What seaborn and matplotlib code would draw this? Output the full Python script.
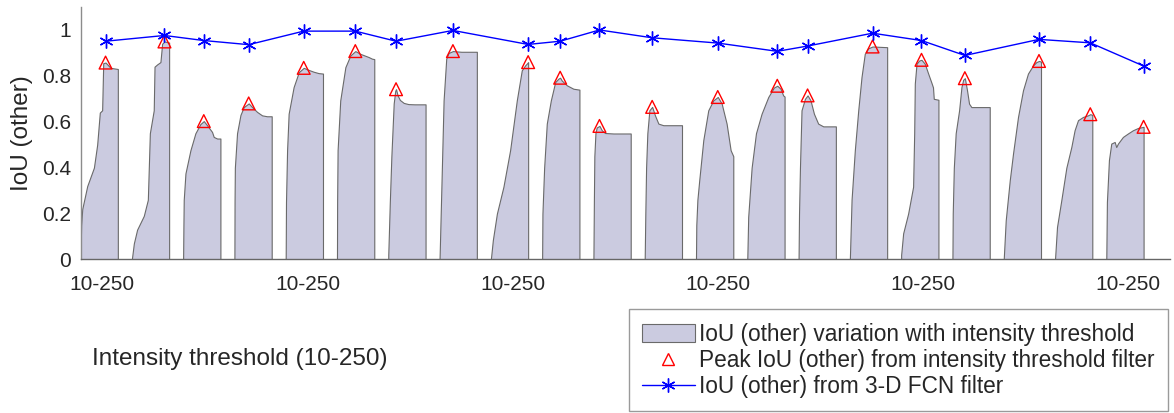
import numpy as np
import matplotlib
matplotlib.use("Agg")
import matplotlib.pyplot as plt
import seaborn as sns
from matplotlib.patches import Patch
from matplotlib.lines import Line2D

# IoU (other) versus intensity threshold for each sample: threshold knots and IoU values
s00_thr = [10, 11, 14, 21, 53, 96, 117, 134, 149, 156, 171, 203, 250]
s00_iou = [0.0, 0.06, 0.15, 0.22, 0.32, 0.40, 0.50, 0.64, 0.65, 0.855, 0.858, 0.835, 0.83]
s01_thr = [10, 23, 44, 87, 113, 126, 151, 156, 173, 194, 205, 220, 250]
s01_iou = [0.0, 0.07, 0.13, 0.19, 0.26, 0.55, 0.65, 0.84, 0.85, 0.86, 0.94, 0.95, 0.945]
s02_thr = [10, 12, 14, 25, 57, 89, 121, 143, 164, 196, 207, 229, 250]
s02_iou = [0.0, 0.15, 0.26, 0.375, 0.476, 0.55, 0.59, 0.603, 0.585, 0.556, 0.534, 0.527, 0.527]
s03_thr = [10, 11, 13, 27, 49, 70, 102, 124, 156, 188, 220, 250]
s03_iou = [0.0, 0.25, 0.40, 0.55, 0.63, 0.664, 0.68, 0.664, 0.643, 0.628, 0.624, 0.624]
s04_thr = [10, 12, 19, 29, 61, 94, 126, 158, 190, 222, 250]
s04_iou = [0.0, 0.25, 0.476, 0.635, 0.751, 0.816, 0.835, 0.826, 0.818, 0.812, 0.81]
s05_thr = [10, 11, 14, 31, 64, 96, 128, 160, 214, 235, 250]
s05_iou = [0.0, 0.25, 0.476, 0.693, 0.838, 0.889, 0.908, 0.896, 0.882, 0.875, 0.873]
s06_thr = [10, 20, 30, 45, 55, 60, 70, 85, 110, 140, 180, 250]
s06_iou = [0.02, 0.25, 0.45, 0.68, 0.735, 0.742, 0.715, 0.695, 0.682, 0.677, 0.676, 0.676]
s07_thr = [10, 25, 36, 53, 68, 96, 150, 250]
s07_iou = [0.0, 0.40, 0.693, 0.875, 0.90, 0.908, 0.905, 0.905]
s08_thr = [10, 23, 49, 91, 134, 177, 209, 231, 241, 250]
s08_iou = [0.0, 0.085, 0.2, 0.317, 0.476, 0.693, 0.824, 0.846, 0.853, 0.86]
s09_thr = [10, 12, 23, 40, 66, 94, 115, 126, 136, 169, 211, 250]
s09_iou = [0.0, 0.2, 0.40, 0.592, 0.693, 0.773, 0.788, 0.792, 0.78, 0.759, 0.744, 0.74]
s10_thr = [10, 13, 16, 23, 31, 49, 64, 85, 139, 250]
s10_iou = [0.0, 0.25, 0.45, 0.55, 0.575, 0.582, 0.563, 0.551, 0.549, 0.549]
s11_thr = [10, 14, 19, 27, 40, 58, 76, 98, 130, 250]
s11_iou = [0.0, 0.2, 0.40, 0.55, 0.65, 0.665, 0.628, 0.592, 0.585, 0.585]
s12_thr = [10, 12, 19, 31, 57, 89, 121, 150, 175, 207, 233, 250]
s12_iou = [0.0, 0.15, 0.26, 0.346, 0.52, 0.65, 0.693, 0.708, 0.68, 0.592, 0.476, 0.45]
s13_thr = [10, 16, 38, 66, 102, 145, 181, 203, 224, 241, 250]
s13_iou = [0.0, 0.186, 0.40, 0.55, 0.635, 0.708, 0.749, 0.757, 0.744, 0.715, 0.71]
s14_thr = [10, 13, 19, 29, 51, 68, 87, 109, 136, 169, 250]
s14_iou = [0.0, 0.2, 0.40, 0.65, 0.70, 0.715, 0.693, 0.635, 0.592, 0.58, 0.58]
s15_thr = [10, 21, 42, 64, 85, 106, 128, 156, 250]
s15_iou = [0.0, 0.26, 0.476, 0.65, 0.795, 0.896, 0.92, 0.928, 0.925]
s16_thr = [10, 23, 55, 87, 94, 98, 109, 126, 141, 162, 184, 205, 215, 220, 250]
s16_iou = [0.02, 0.114, 0.2, 0.317, 0.55, 0.767, 0.853, 0.867, 0.87, 0.853, 0.81, 0.77, 0.75, 0.70, 0.696]
s17_thr = [10, 12, 19, 31, 53, 68, 79, 90, 104, 117, 132, 250]
s17_iou = [0.0, 0.2, 0.40, 0.55, 0.65, 0.751, 0.783, 0.79, 0.737, 0.679, 0.664, 0.664]
s18_thr = [10, 23, 49, 70, 102, 134, 166, 199, 220, 237, 250]
s18_iou = [0.0, 0.171, 0.346, 0.462, 0.621, 0.737, 0.81, 0.846, 0.86, 0.865, 0.862]
s19_thr = [10, 23, 51, 83, 115, 136, 158, 190, 222, 237, 250]
s19_iou = [0.0, 0.142, 0.26, 0.40, 0.49, 0.563, 0.607, 0.621, 0.628, 0.633, 0.63]
s20_thr = [10, 14, 27, 42, 64, 74, 85, 117, 149, 181, 214, 250]
s20_iou = [0.0, 0.25, 0.433, 0.505, 0.512, 0.49, 0.505, 0.534, 0.549, 0.563, 0.573, 0.578]

# IoU (other) obtained with the 3-D FCN filter, one value per sample
fcn_iou = [0.951, 0.976, 0.954, 0.936, 0.995, 0.995, 0.951, 0.998, 0.937, 0.951, 1.0,
           0.966, 0.943, 0.907, 0.93, 0.986, 0.954, 0.889, 0.959, 0.944, 0.843]

tick_text = "10-250"
ylabel_text = "IoU (other)"
xlabel_text = "Intensity threshold (10-250)"
legend_texts = ["IoU (other) variation with intensity threshold",
                "Peak IoU (other) from intensity threshold filter",
                "IoU (other) from 3-D FCN filter"]

samples = [
    (s00_thr, s00_iou), (s01_thr, s01_iou), (s02_thr, s02_iou), (s03_thr, s03_iou),
    (s04_thr, s04_iou), (s05_thr, s05_iou), (s06_thr, s06_iou), (s07_thr, s07_iou),
    (s08_thr, s08_iou), (s09_thr, s09_iou), (s10_thr, s10_iou), (s11_thr, s11_iou),
    (s12_thr, s12_iou), (s13_thr, s13_iou), (s14_thr, s14_iou), (s15_thr, s15_iou),
    (s16_thr, s16_iou), (s17_thr, s17_iou), (s18_thr, s18_iou), (s19_thr, s19_iou),
    (s20_thr, s20_iou),
]

sns.set_style("white")
plt.rcParams["font.family"] = ["Liberation Sans", "DejaVu Sans"]

FILL = "#cbcbe0"
EDGE = "#6a6a6a"
TXT = "#262626"
SPINE = "#8c8c8c"

# each sample occupies the threshold span 10..250, followed by a gap
PERIOD = 330
T0 = 10

fig = plt.figure(figsize=(11.74, 4.13), dpi=100)
ax = fig.add_axes([0.0686, 0.3717, 0.928, 0.6113])

peak_x, peak_y, edges = [], [], []
for i, (thr, iou) in enumerate(samples):
    thr = np.asarray(thr, dtype=float)
    iou = np.asarray(iou, dtype=float)
    base = i * PERIOD
    x = base + thr - T0
    ax.fill_between(x, 0, iou, facecolor=FILL, edgecolor=EDGE, linewidth=0.8, zorder=1)
    k = int(np.argmax(iou))
    peak_x.append(x[k])
    peak_y.append(iou[k])
    edges += [base, base + 240]

sns.lineplot(x=peak_x, y=fcn_iou, ax=ax, color="#0000ff", linewidth=1.0,
             marker=(6, 2, 0), markersize=10, markeredgewidth=1.0,
             markeredgecolor="#0000ff", zorder=5, sort=False)
sns.scatterplot(x=peak_x, y=peak_y, ax=ax, marker="^", s=85, facecolors="none",
                edgecolor="#ff0000", linewidth=1.0, zorder=4)

ax.set_xlim(0, 7010)
ax.set_ylim(0, 1.1)

# tick marks at every sample boundary, labels at every fourth sample
ax.set_xticks(edges)
ax.set_xticklabels([])
label_pos = [i * PERIOD + 140 for i in range(0, len(samples), 4)]
ax.set_xticks(label_pos, minor=True)
ax.set_xticklabels([tick_text] * len(label_pos), minor=True)
ax.tick_params(axis="x", which="major", direction="in", length=8, width=1.2,
               color="#3a3a3a")
ax.tick_params(axis="x", which="minor", length=0, pad=11.5, labelsize=15, labelcolor=TXT)

ax.set_yticks([0, 0.2, 0.4, 0.6, 0.8, 1.0])
ax.set_yticklabels(["0", "0.2", "0.4", "0.6", "0.8", "1"])
ax.tick_params(axis="y", direction="in", length=8, width=1.0, color=SPINE,
               pad=7, labelsize=15, labelcolor=TXT)

for side in ["top", "right"]:
    ax.spines[side].set_visible(False)
ax.spines["left"].set_color(SPINE)
ax.spines["bottom"].set_color("#666666")
for side in ["left", "bottom"]:
    ax.spines[side].set_linewidth(1.0)

ax.set_ylabel(ylabel_text, fontsize=17.5, color=TXT)
ax.yaxis.set_label_coords(-0.044, 0.5)
ax.set_xlabel(xlabel_text, fontsize=17.5, color=TXT)
ax.xaxis.set_label_coords(0.146, -0.35)

handles = [
    Patch(facecolor=FILL, edgecolor=EDGE, linewidth=0.8),
    Line2D([], [], linestyle="none", marker="^", markersize=9, markerfacecolor="none",
           markeredgecolor="#ff0000", markeredgewidth=1.0),
    Line2D([], [], color="#0000ff", linewidth=1.0, marker=(6, 2, 0), markersize=10,
           markeredgecolor="#0000ff"),
]
fig.legend(handles, legend_texts, loc="lower right", bbox_to_anchor=(0.995, 0.004),
           fontsize=16.3, frameon=True, fancybox=False, edgecolor="#9a9a9a",
           framealpha=1, handlelength=2.3, handleheight=0.8, labelspacing=0.13,
           borderpad=0.6, handletextpad=0.2, borderaxespad=0)

fig.savefig("out.png", dpi=100)
